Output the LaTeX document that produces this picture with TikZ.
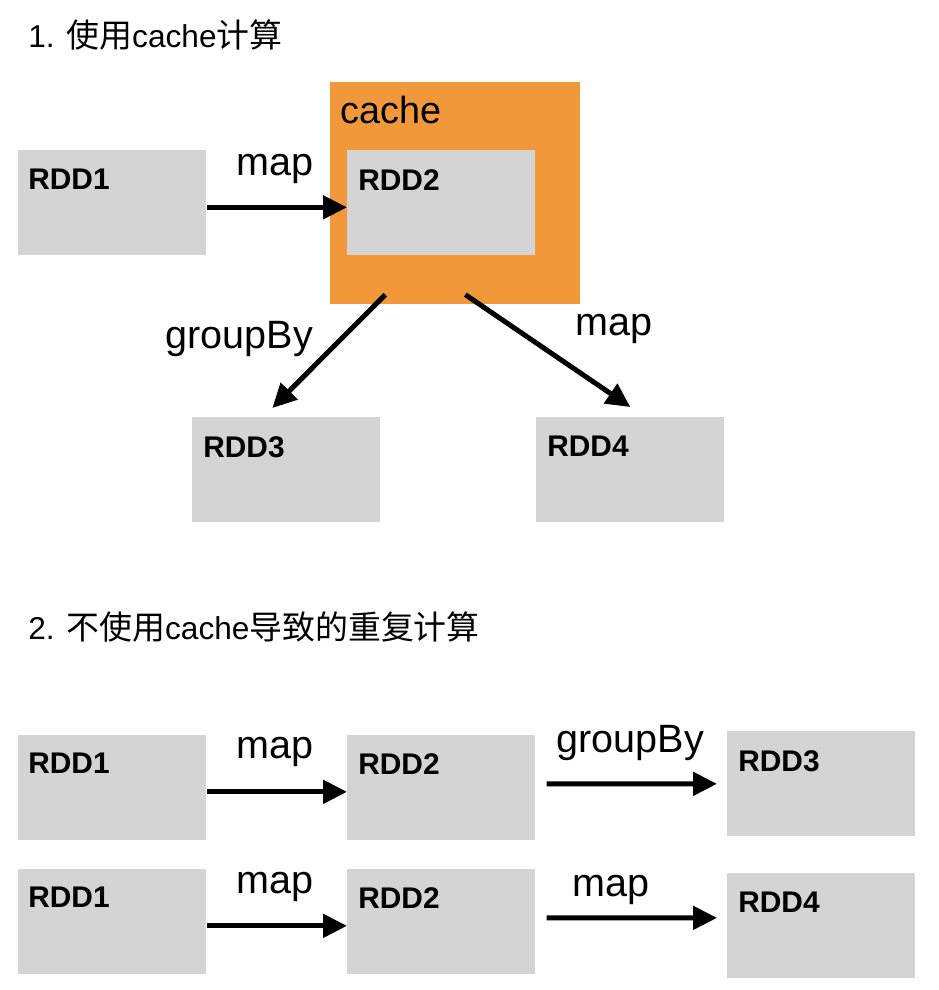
\documentclass[tikz,border=0pt]{standalone}
\usepackage{fontspec}
\setmainfont{Liberation Sans}
\newfontfamily\cjk[Scale=1.04]{Noto Sans CJK SC}
\usetikzlibrary{arrows.meta}
\definecolor{rddgray}{HTML}{D4D4D4}
\definecolor{cacheorange}{HTML}{F0983A}
\begin{document}
\begin{tikzpicture}[x=0.02cm, y=-0.02cm,
    rddbox/.style={fill=rddgray, anchor=north west, inner sep=0, minimum width=3.76cm, minimum height=2.1cm},
    rddtag/.style={anchor=north west, inner sep=0, font=\fontsize{17}{17}\selectfont\bfseries},
    title/.style={anchor=west, inner sep=0, font=\fontsize{18}{18}\selectfont},
    lbl/.style={inner sep=0, font=\fontsize{22.5}{23}\selectfont},
    arr/.style={line width=0.1cm, -{Triangle[length=0.48cm,width=0.46cm]}}]
    \useasboundingbox (0,0) rectangle (938,990);

    % 1. con cache
    \node[title] (t1) at (28,35) {1. {\cjk 使用}cache{\cjk 计算}};

    \node[rddbox] (a1) at (18,150) {};
    \node[rddbox, fill=cacheorange, minimum width=5cm, minimum height=4.44cm] (cache) at (330,82) {};
    \node[lbl, anchor=base west, font=\fontsize{21.5}{22}\selectfont] (cachetag) at ([shift={(10,42)}]cache.north west) {cache};
    \node[rddbox] (a2) at (347,150) {};
    \node[rddbox] (a3) at (192,417) {};
    \node[rddbox] (a4) at (536,417) {};

    \node[rddtag] (a1t) at ([shift={(10,19)}]a1.north west) {RDD1};
    \node[rddtag] (a2t) at ([shift={(11,19)}]a2.north west) {RDD2};
    \node[rddtag] (a3t) at ([shift={(11,19)}]a3.north west) {RDD3};
    \node[rddtag] (a4t) at ([shift={(11,19)}]a4.north west) {RDD4};

    \draw[arr] ([yshift=-0.09cm]a1.east) -- ([yshift=-0.09cm]a2.west)
        node[lbl, midway, anchor=base, shift={(-1.5,-32)}] (m1) {map};
    \draw[arr] ([shift={(-70,-10)}]cache.south) -- ([shift={(-14,-9)}]a3.north)
        node[lbl, midway, anchor=base east, shift={(-13.5,-3)}] (g1) {groupBy};
    \draw[arr] ([shift={(10,-10)}]cache.south) -- ([shift={(0,-10)}]a4.north)
        node[lbl, midway, anchor=base west, shift={(25.5,-15.5)}] (m2) {map};

    % 2. sin cache
    \node[title] (t2) at (28,627) {2. {\cjk 不使用}cache{\cjk 导致的重复计算}};

    \node[rddbox] (b1) at (18,735) {};
    \node[rddbox] (b2) at (347,735) {};
    \node[rddbox] (b3) at (727,731) {};
    \node[rddbox] (c1) at (18,869) {};
    \node[rddbox] (c2) at (347,869) {};
    \node[rddbox] (c4) at (727,873) {};

    \node[rddtag] (b1t) at ([shift={(10,18)}]b1.north west) {RDD1};
    \node[rddtag] (b2t) at ([shift={(11,18)}]b2.north west) {RDD2};
    \node[rddtag] (b3t) at ([shift={(11,19)}]b3.north west) {RDD3};
    \node[rddtag] (c1t) at ([shift={(10,18)}]c1.north west) {RDD1};
    \node[rddtag] (c2t) at ([shift={(11,18)}]c2.north west) {RDD2};
    \node[rddtag] (c4t) at ([shift={(11,19)}]c4.north west) {RDD4};

    \draw[arr] ([yshift=-0.08cm]b1.east) -- ([yshift=-0.08cm]b2.west)
        node[lbl, midway, anchor=base, shift={(-2,-33)}] (m3) {map};
    \draw[arr, shorten <=0.22cm, shorten >=0.2cm] ([yshift=0.08cm]b2.east) -- (b3.west)
        node[lbl, midway, anchor=base, shift={(-1,-31)}] (g2) {groupBy};
    \draw[arr] ([yshift=-0.08cm]c1.east) -- ([yshift=-0.08cm]c2.west)
        node[lbl, midway, anchor=base, shift={(-2,-32)}] (m4) {map};
    \draw[arr, shorten <=0.22cm, shorten >=0.2cm] ([yshift=0.08cm]c2.east) -- ([yshift=0.16cm]c4.west)
        node[lbl, midway, anchor=base, shift={(-20,-21)}] (m5) {map};
\end{tikzpicture}
\end{document}
